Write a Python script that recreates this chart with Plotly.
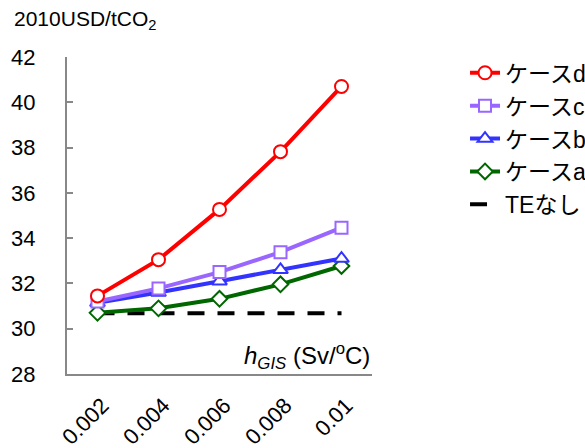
import plotly.graph_objects as go

x_labels = ["0.002", "0.004", "0.006", "0.008", "0.01"]
case_d = [31.45, 33.05, 35.27, 37.82, 40.70]
case_c = [31.20, 31.78, 32.50, 33.38, 34.46]
case_b = [31.15, 31.60, 32.10, 32.60, 33.10]
case_a = [30.70, 30.90, 31.32, 31.96, 32.77]
no_te = [30.68, 30.68, 30.68, 30.68, 30.68]
y_ticks = [28, 30, 32, 34, 36, 38, 40, 42]

FONT = "Liberation Sans, Arial, Noto Sans CJK JP, sans-serif"

fig = go.Figure()

fig.add_trace(go.Scatter(
    x=x_labels, y=no_te, name="TEなし", mode="lines",
    line=dict(color="black", width=4, dash="17px,13px"),
    legendgroup="TE", legendrank=5,
))

series = [
    ("ケースd", case_d, "#FF0000", "circle", 13, 1),
    ("ケースc", case_c, "#9966FF", "square", 12, 2),
    ("ケースb", case_b, "#3333FF", "triangle-up", 13, 3),
    ("ケースa", case_a, "#006600", "diamond", 12, 4),
]
for name, ys, color, sym, size, rank in series[::-1]:
    fig.add_trace(go.Scatter(
        x=x_labels, y=ys, name=name, mode="lines+markers",
        line=dict(color=color, width=4),
        marker=dict(symbol=sym, size=size, color="white",
                    line=dict(color=color, width=2)),
        legendgroup=name, legendrank=rank,
    ))

fig.update_layout(
    width=585, height=448,
    margin=dict(l=67, r=213, t=57, b=74, autoexpand=False),
    paper_bgcolor="white", plot_bgcolor="white",
    font=dict(family=FONT, size=22, color="black"),
    showlegend=True,
    legend=dict(x=1.305, y=1.018, xanchor="left", yanchor="top",
                traceorder="normal", tracegroupgap=8,
                font=dict(size=23), bgcolor="rgba(0,0,0,0)"),
    xaxis=dict(type="category", range=[-0.5, 4.5], showgrid=False,
               showline=True, linecolor="#888888", linewidth=2,
               ticks="", tickangle=-45, tickfont=dict(size=22),
               ticklabelstandoff=8, ticklabelshift=5,
               zeroline=False, automargin=False),
    yaxis=dict(range=[28, 42], tickvals=y_ticks, showgrid=False,
               showline=True, linecolor="#888888", linewidth=2,
               ticks="inside", ticklen=6, tickcolor="#888888", tickwidth=2,
               tickfont=dict(size=22), ticklabelstandoff=25,
               zeroline=False, automargin=False),
    annotations=[
        dict(text="2010USD/tCO<sub>2</sub>", xref="paper", yref="paper",
             x=-0.18, y=1.0, yshift=37, xanchor="left", yanchor="middle",
             showarrow=False, font=dict(size=21)),
        dict(text="<i>h</i><sub><i>GIS</i></sub> (Sv/<sup>o</sup>C)",
             xref="paper", yref="paper", x=1.0, y=0.0, yshift=18,
             xanchor="right", yanchor="middle", showarrow=False,
             font=dict(size=24)),
    ],
)

fig.write_html("out.html")
